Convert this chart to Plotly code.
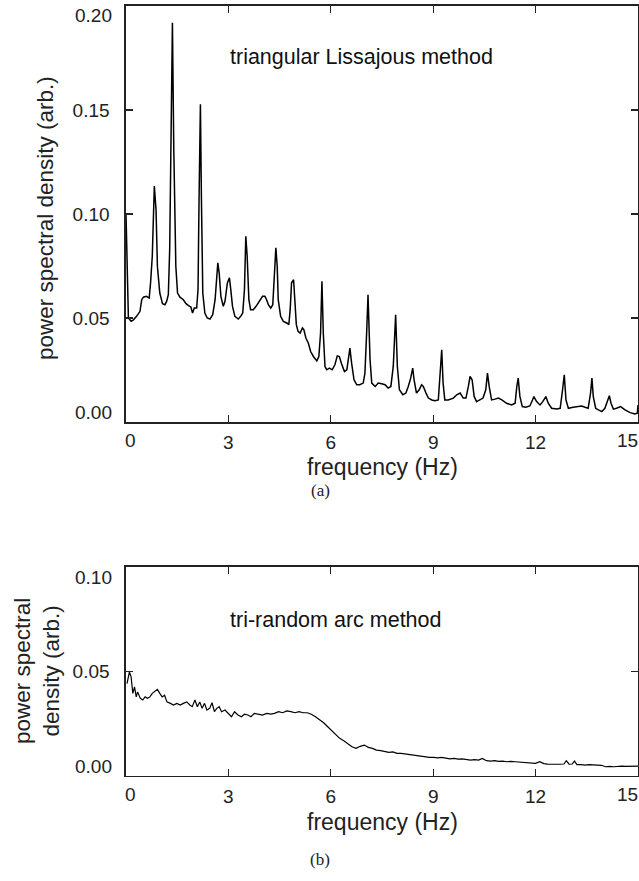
import plotly.graph_objects as go

# ---- panel (a): triangular Lissajous method ----
freq_a = [0.00, 0.07, 0.15, 0.21, 0.31, 0.41, 0.46, 0.51, 0.60, 0.68, 0.72, 0.77, 0.83, 0.88, 0.92, 0.99,
          1.07, 1.14, 1.19, 1.24, 1.28, 1.31, 1.36, 1.40, 1.46, 1.51, 1.58, 1.68, 1.76, 1.83, 1.90, 1.95,
          2.00, 2.07, 2.11, 2.14, 2.18, 2.21, 2.25, 2.31, 2.38, 2.46, 2.54, 2.61, 2.66, 2.69, 2.73, 2.78,
          2.85, 2.90, 2.97, 3.03, 3.07, 3.12, 3.19, 3.29, 3.36, 3.42, 3.47, 3.51, 3.55, 3.60, 3.65, 3.73,
          3.81, 3.88, 3.95, 4.00, 4.07, 4.12, 4.17, 4.24, 4.30, 4.34, 4.39, 4.43, 4.46, 4.53, 4.61, 4.71,
          4.77, 4.81, 4.85, 4.91, 4.95, 4.99, 5.04, 5.10, 5.17, 5.21, 5.27, 5.34, 5.41, 5.49, 5.59, 5.65,
          5.70, 5.74, 5.78, 5.83, 5.88, 5.96, 6.04, 6.12, 6.19, 6.25, 6.31, 6.40, 6.47, 6.51, 6.56, 6.61,
          6.68, 6.76, 6.85, 6.95, 7.00, 7.05, 7.09, 7.15, 7.20, 7.30, 7.39, 7.49, 7.59, 7.68, 7.76, 7.83,
          7.90, 7.95, 8.01, 8.11, 8.20, 8.27, 8.34, 8.40, 8.44, 8.51, 8.59, 8.66, 8.71, 8.79, 8.86, 8.96,
          9.05, 9.15, 9.20, 9.25, 9.29, 9.34, 9.44, 9.59, 9.69, 9.79, 9.88, 9.96, 10.03, 10.08, 10.14, 10.20,
          10.27, 10.37, 10.46, 10.54, 10.59, 10.64, 10.71, 10.81, 10.91, 11.01, 11.15, 11.30, 11.40, 11.45,
          11.49, 11.54, 11.61, 11.71, 11.83, 11.91, 11.95, 12.03, 12.13, 12.21, 12.30, 12.37, 12.47, 12.62,
          12.72, 12.79, 12.84, 12.89, 12.96, 13.10, 13.25, 13.35, 13.45, 13.54, 13.61, 13.65, 13.69, 13.76,
          13.84, 13.94, 14.03, 14.10, 14.16, 14.21, 14.28, 14.37, 14.49, 14.62, 14.77, 14.91, 14.98, 15.00]
psd_a = [0.1000, 0.0500, 0.0484, 0.0490, 0.0508, 0.0532, 0.0588, 0.0600, 0.0604, 0.0596, 0.0670, 0.0797,
         0.1134, 0.1020, 0.0749, 0.0620, 0.0569, 0.0564, 0.0580, 0.0612, 0.0830, 0.1390, 0.1920, 0.1310,
         0.0749, 0.0620, 0.0600, 0.0588, 0.0569, 0.0560, 0.0553, 0.0524, 0.0548, 0.0548, 0.0636, 0.1070,
         0.1527, 0.1070, 0.0620, 0.0524, 0.0500, 0.0495, 0.0516, 0.0588, 0.0684, 0.0765, 0.0717, 0.0604,
         0.0556, 0.0580, 0.0669, 0.0693, 0.0636, 0.0556, 0.0508, 0.0495, 0.0508, 0.0524, 0.0636, 0.0893,
         0.0797, 0.0588, 0.0540, 0.0540, 0.0556, 0.0572, 0.0588, 0.0604, 0.0604, 0.0588, 0.0564, 0.0548,
         0.0564, 0.0669, 0.0837, 0.0749, 0.0588, 0.0508, 0.0484, 0.0476, 0.0468, 0.0540, 0.0669, 0.0684,
         0.0588, 0.0468, 0.0436, 0.0428, 0.0452, 0.0444, 0.0404, 0.0380, 0.0339, 0.0315, 0.0294, 0.0315,
         0.0428, 0.0676, 0.0428, 0.0267, 0.0251, 0.0259, 0.0251, 0.0275, 0.0318, 0.0315, 0.0283, 0.0243,
         0.0251, 0.0307, 0.0355, 0.0283, 0.0203, 0.0179, 0.0179, 0.0187, 0.0235, 0.0428, 0.0612, 0.0300,
         0.0187, 0.0171, 0.0187, 0.0184, 0.0179, 0.0163, 0.0171, 0.0267, 0.0516, 0.0267, 0.0155, 0.0131,
         0.0139, 0.0171, 0.0211, 0.0259, 0.0203, 0.0139, 0.0155, 0.0179, 0.0171, 0.0139, 0.0115, 0.0106,
         0.0102, 0.0106, 0.0235, 0.0347, 0.0187, 0.0106, 0.0106, 0.0115, 0.0131, 0.0139, 0.0115, 0.0115,
         0.0171, 0.0219, 0.0203, 0.0123, 0.0098, 0.0106, 0.0115, 0.0155, 0.0235, 0.0171, 0.0106, 0.0110,
         0.0115, 0.0106, 0.0090, 0.0082, 0.0090, 0.0171, 0.0211, 0.0123, 0.0074, 0.0071, 0.0077, 0.0106,
         0.0122, 0.0098, 0.0082, 0.0098, 0.0122, 0.0090, 0.0066, 0.0062, 0.0066, 0.0155, 0.0227, 0.0106,
         0.0066, 0.0071, 0.0074, 0.0077, 0.0071, 0.0066, 0.0139, 0.0211, 0.0122, 0.0066, 0.0058, 0.0050,
         0.0066, 0.0098, 0.0126, 0.0090, 0.0062, 0.0066, 0.0074, 0.0058, 0.0045, 0.0039, 0.0042, 0.0082]

# ---- panel (b): tri-random arc method ----
freq_b = [0.03, 0.10, 0.15, 0.20, 0.25, 0.30, 0.34, 0.42, 0.49, 0.56, 0.63, 0.70, 0.77, 0.84, 0.92, 0.99,
          1.06, 1.13, 1.20, 1.30, 1.39, 1.49, 1.59, 1.68, 1.78, 1.87, 1.94, 2.02, 2.09, 2.16, 2.23, 2.30,
          2.37, 2.45, 2.52, 2.59, 2.66, 2.73, 2.80, 2.90, 2.99, 3.09, 3.18, 3.28, 3.38, 3.47, 3.57, 3.66,
          3.76, 3.88, 4.00, 4.12, 4.24, 4.35, 4.47, 4.59, 4.71, 4.83, 4.95, 5.07, 5.19, 5.31, 5.43, 5.55,
          5.67, 5.79, 5.91, 6.03, 6.15, 6.26, 6.38, 6.50, 6.62, 6.74, 6.86, 6.98, 7.10, 7.22, 7.34, 7.46,
          7.58, 7.70, 7.82, 7.94, 8.06, 8.18, 8.30, 8.42, 8.54, 8.65, 8.77, 8.89, 9.01, 9.13, 9.25, 9.37,
          9.49, 9.61, 9.73, 9.85, 9.97, 10.09, 10.21, 10.33, 10.44, 10.56, 10.68, 10.80, 10.92, 11.04,
          11.16, 11.28, 11.40, 11.52, 11.64, 11.76, 11.88, 12.00, 12.12, 12.24, 12.35, 12.47, 12.59, 12.71,
          12.83, 12.90, 12.98, 13.07, 13.14, 13.21, 13.33, 13.45, 13.57, 13.69, 13.81, 13.93, 14.05, 14.17,
          14.29, 14.41, 14.53, 14.65, 14.76, 14.88, 15.00]
psd_b = [0.0441, 0.0497, 0.0473, 0.0394, 0.0425, 0.0377, 0.0401, 0.0370, 0.0362, 0.0377, 0.0370, 0.0377,
         0.0394, 0.0401, 0.0413, 0.0394, 0.0377, 0.0385, 0.0353, 0.0346, 0.0338, 0.0346, 0.0338, 0.0346,
         0.0353, 0.0338, 0.0330, 0.0362, 0.0330, 0.0353, 0.0322, 0.0346, 0.0314, 0.0322, 0.0349, 0.0306,
         0.0322, 0.0330, 0.0306, 0.0314, 0.0298, 0.0282, 0.0306, 0.0290, 0.0282, 0.0294, 0.0290, 0.0282,
         0.0298, 0.0294, 0.0290, 0.0298, 0.0294, 0.0298, 0.0306, 0.0301, 0.0310, 0.0306, 0.0301, 0.0306,
         0.0301, 0.0301, 0.0294, 0.0282, 0.0269, 0.0253, 0.0234, 0.0215, 0.0194, 0.0178, 0.0167, 0.0154,
         0.0138, 0.0130, 0.0140, 0.0146, 0.0135, 0.0130, 0.0122, 0.0119, 0.0114, 0.0111, 0.0113, 0.0106,
         0.0106, 0.0103, 0.0102, 0.0098, 0.0093, 0.0093, 0.0090, 0.0087, 0.0087, 0.0085, 0.0087, 0.0084,
         0.0080, 0.0082, 0.0079, 0.0080, 0.0078, 0.0074, 0.0076, 0.0074, 0.0082, 0.0071, 0.0069, 0.0071,
         0.0068, 0.0069, 0.0066, 0.0068, 0.0066, 0.0065, 0.0063, 0.0061, 0.0060, 0.0058, 0.0066, 0.0057,
         0.0055, 0.0054, 0.0055, 0.0054, 0.0055, 0.0071, 0.0054, 0.0055, 0.0069, 0.0052, 0.0052, 0.0050,
         0.0052, 0.0050, 0.0049, 0.0049, 0.0042, 0.0044, 0.0042, 0.0044, 0.0045, 0.0044, 0.0045, 0.0047,
         0.0045]

x_ticks = [0, 3, 6, 9, 12, 15]
x_ticktext = ["", "3", "6", "9", "12", ""]
ya_ticks = [0.0, 0.05, 0.10, 0.15, 0.20]
ya_ticktext = ["", "0.05", "0.10", "0.15", ""]
yb_ticks = [0.0, 0.05, 0.10]
yb_ticktext = ["", "0.05", ""]

label_a = "triangular Lissajous method"
label_b = "tri-random arc method"
x_title = "frequency (Hz)"
y_title_a = "power spectral density (arb.)"
y_title_b = "power spectral<br>density (arb.)"

W, H = 639, 881
FONT = "Liberation Sans, Arial, sans-serif"
TICK_SIZE = 19
TITLE_SIZE = 23
AX_COLOR = "#222222"

def px(x):
    return x / W

def py(y):
    return 1 - y / H

fig = go.Figure()
fig.add_trace(go.Scatter(x=freq_a, y=psd_a, mode="lines", line=dict(color="black", width=1.5),
                         xaxis="x", yaxis="y", showlegend=False, hoverinfo="skip"))
fig.add_trace(go.Scatter(x=freq_b, y=psd_b, mode="lines", line=dict(color="black", width=1.2),
                         xaxis="x2", yaxis="y2", showlegend=False, hoverinfo="skip"))

axis_common = dict(showline=True, linecolor=AX_COLOR, linewidth=1.6, mirror="ticks", ticks="inside",
                   ticklen=7, tickwidth=1.4, tickcolor=AX_COLOR, showgrid=False, zeroline=False,
                   tickfont=dict(family=FONT, size=TICK_SIZE, color="#222"))

left, right = 126, 638
top_a, bot_a = 6, 422
top_b, bot_b = 567, 775.5

fig.update_layout(
    width=W, height=H, margin=dict(l=0, r=0, t=0, b=0),
    paper_bgcolor="white", plot_bgcolor="white",
    xaxis=dict(domain=[px(left), px(right)], range=[0, 15], anchor="y", tickvals=x_ticks,
               ticktext=x_ticktext, ticklabelstandoff=3, **axis_common),
    yaxis=dict(domain=[py(bot_a), py(top_a)], range=[0, 0.2], anchor="x", tickvals=ya_ticks,
               ticktext=ya_ticktext, ticklabelstandoff=11, **axis_common),
    xaxis2=dict(domain=[px(left), px(right)], range=[0, 15], anchor="y2", tickvals=x_ticks,
                ticktext=x_ticktext, ticklabelstandoff=3, **axis_common),
    yaxis2=dict(domain=[py(bot_b), py(top_b)], range=[0, 0.1], anchor="x2", tickvals=yb_ticks,
                ticktext=yb_ticktext, ticklabelstandoff=11, **axis_common),
)

ann = []
tf = dict(family=FONT, size=TICK_SIZE, color="#222")
# edge tick labels, nudged inward as in the original
for xr, yr, ylab_top, ylab_bot, ymax in [("x", "y", "0.20", "0.00", 0.2), ("x2", "y2", "0.10", "0.00", 0.1)]:
    ann.append(dict(x=px(114), y=ymax, xref="paper", yref=yr, text=ylab_top,
                    showarrow=False, font=tf, xanchor="right", yanchor="middle", yshift=-10))
    ann.append(dict(x=px(114), y=0, xref="paper", yref=yr, text=ylab_bot,
                    showarrow=False, font=tf, xanchor="right", yanchor="middle", yshift=9))
    ann.append(dict(x=0, y=0, xref=xr, yref=yr, text="0", showarrow=False, font=tf,
                    xanchor="center", yanchor="top", xshift=4, yshift=-6))
    ann.append(dict(x=15, y=0, xref=xr, yref=yr, text="15", showarrow=False, font=tf,
                    xanchor="center", yanchor="top", xshift=-11, yshift=-6))

tfont = dict(family=FONT, size=TITLE_SIZE, color="#222")
ann += [
    dict(x=px(382), y=py(467), xref="paper", yref="paper", text=x_title, showarrow=False, font=tfont,
         xanchor="center", yanchor="middle"),
    dict(x=px(382), y=py(822), xref="paper", yref="paper", text=x_title, showarrow=False, font=tfont,
         xanchor="center", yanchor="middle"),
    dict(x=px(45), y=py(218), xref="paper", yref="paper", text=y_title_a, showarrow=False,
         font=dict(family=FONT, size=22.5, color="#222"),
         textangle=-90, xanchor="center", yanchor="middle"),
    dict(x=px(37), y=py(671), xref="paper", yref="paper", text=y_title_b, showarrow=False,
         font=dict(family=FONT, size=22.5, color="#222"),
         textangle=-90, xanchor="center", yanchor="middle"),
    dict(x=3.0, y=0.1754, xref="x", yref="y", text=label_a, showarrow=False,
         font=dict(family=FONT, size=21.5, color="#111"), xanchor="left", yanchor="middle"),
    dict(x=3.0, y=0.0745, xref="x2", yref="y2", text=label_b, showarrow=False,
         font=dict(family=FONT, size=21.5, color="#111"), xanchor="left", yanchor="middle"),
    dict(x=px(320), y=py(491), xref="paper", yref="paper", text="(a)", showarrow=False,
         font=dict(family="Liberation Serif, Times New Roman, serif", size=17, color="#222"),
         xanchor="center", yanchor="middle"),
    dict(x=px(320), y=py(859), xref="paper", yref="paper", text="(b)", showarrow=False,
         font=dict(family="Liberation Serif, Times New Roman, serif", size=17, color="#222"),
         xanchor="center", yanchor="middle"),
]
fig.update_layout(annotations=ann)

fig.write_html("out.html", config={"displayModeBar": False, "staticPlot": True},
               post_script="document.body.style.margin='0px';document.body.style.overflow='hidden';")
